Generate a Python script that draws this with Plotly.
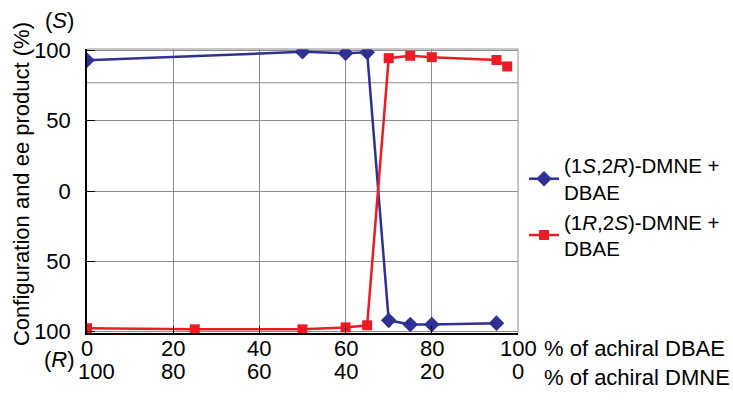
import plotly.graph_objects as go

# Data
dbae_pct = [0, 50, 60, 65, 70, 75, 80, 95]
ee_1S2R = [93, 99, 98, 98.6, -92, -95, -95, -94]

dbae_pct_r = [0, 25, 50, 60, 65, 70, 75, 80, 95, 97.5]
ee_1R2S = [-97.6, -98.4, -98.4, -97, -95.5, 94.5, 96.2, 95.2, 93.2, 88.6]

x_ticks = [0, 20, 40, 60, 80, 100]
dbae_labels = ["0", "20", "40", "60", "80", "100"]
dmne_labels = ["100", "80", "60", "40", "20", "0"]
y_ticks = [-100, -50, 0, 50, 100]
y_ticktext = ["100", "50", "0", "50", "100"]
extra_grid_y = 77

BLUE = "#2E3192"
RED = "#ED1C24"
GRID = "#8c8c8c"
FONT = "Liberation Sans, Arial, sans-serif"
FS = 22

fig = go.Figure()
fig.add_trace(go.Scatter(
    x=dbae_pct, y=ee_1S2R, mode="lines+markers",
    name="(1<i>S</i>,2<i>R</i>)-DMNE +<br>DBAE",
    line=dict(color=BLUE, width=2.5),
    marker=dict(symbol="diamond", size=12, color=BLUE),
))
fig.add_trace(go.Scatter(
    x=dbae_pct_r, y=ee_1R2S, mode="lines+markers",
    name="(1<i>R</i>,2<i>S</i>)-DMNE +<br>DBAE",
    line=dict(color=RED, width=2.5),
    marker=dict(symbol="square", size=10, color=RED),
))

fig.update_layout(
    width=733, height=405,
    margin=dict(l=87, r=215, t=49, b=72, autoexpand=False),
    paper_bgcolor="white", plot_bgcolor="white",
    font=dict(family=FONT, size=FS, color="black"),
    showlegend=True,
    legend=dict(x=1.014, y=0.66, xanchor="left", yanchor="top",
                font=dict(size=20.5), tracegroupgap=0, itemwidth=30,
                bgcolor="rgba(0,0,0,0)"),
)
fig.update_xaxes(
    range=[0, 100], tickvals=x_ticks, showticklabels=False,
    showgrid=True, gridcolor=GRID, gridwidth=1,
    showline=True, linecolor="black", linewidth=1.5,
    ticks="inside", ticklen=7, tickcolor="black",
    zeroline=False,
)
fig.update_yaxes(
    range=[-101, 101], tickvals=y_ticks, ticktext=y_ticktext,
    showgrid=True, gridcolor=GRID, gridwidth=1,
    showline=True, linecolor="black", linewidth=1.5,
    ticks="inside", ticklen=8, tickcolor="black",
    zeroline=False, ticklabelstandoff=10,
)

# frame top/right and extra gridline
fig.add_shape(type="line", xref="paper", yref="paper", x0=0, x1=1, y0=1, y1=1,
              line=dict(color=GRID, width=1))
fig.add_shape(type="line", xref="paper", yref="paper", x0=1, x1=1, y0=0, y1=1,
              line=dict(color=GRID, width=1))
fig.add_shape(type="line", xref="paper", yref="y", x0=0, x1=1,
              y0=extra_grid_y, y1=extra_grid_y, line=dict(color=GRID, width=1),
              layer="below")

# y title
fig.add_annotation(x=-0.153, xref="paper", y=0.5246, yref="paper",
                   text="Configuration and ee product (%)", textangle=-90,
                   showarrow=False, xanchor="center", yanchor="middle",
                   font=dict(size=FS))

# two x label rows
for i, (xv, lab1, lab2) in enumerate(zip(x_ticks, dbae_labels, dmne_labels)):
    fig.add_annotation(x=xv, xref="x", y=-0.056, yref="paper", text=lab1,
                       showarrow=False, xanchor="center", yanchor="middle",
                       font=dict(size=FS))
    fig.add_annotation(x=xv, xref="x", y=-0.134, yref="paper", text=lab2,
                       showarrow=False, xanchor="center", yanchor="middle",
                       xshift=9 if i == 0 else 0,
                       font=dict(size=FS))

fig.add_annotation(x=1.0556, xref="paper", y=-0.056, yref="paper",
                   text="% of achiral DBAE", showarrow=False,
                   xanchor="left", yanchor="middle", font=dict(size=FS))
fig.add_annotation(x=1.0556, xref="paper", y=-0.155, yref="paper",
                   text="% of achiral DMNE", showarrow=False,
                   xanchor="left", yanchor="middle", font=dict(size=FS))
fig.add_annotation(x=-0.063, xref="paper", y=1.102, yref="paper",
                   text="(<i>S</i>)", showarrow=False,
                   xanchor="center", yanchor="middle", font=dict(size=FS))
fig.add_annotation(x=-0.063, xref="paper", y=-0.095, yref="paper",
                   text="(<i>R</i>)", showarrow=False,
                   xanchor="center", yanchor="middle", font=dict(size=FS))

fig.write_html("out.html")
